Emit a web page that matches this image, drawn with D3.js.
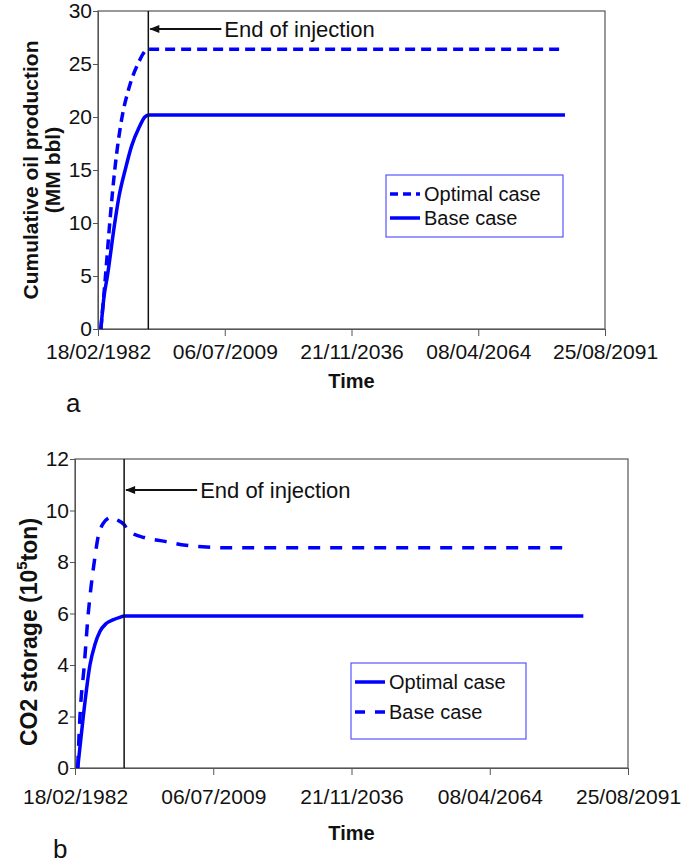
<!DOCTYPE html>
<html>
<head>
<meta charset="utf-8">
<script src="https://cdn.jsdelivr.net/npm/d3@7"></script>
<style>
  body { margin: 0; background: #fff; }
  text { font-family: "Liberation Sans", Arial, sans-serif; fill: #111; }
</style>
</head>
<body>
<svg width="685" height="863"></svg>
<script>
// x axis: Excel date axis, major unit 10000 days
const xTickDates = ["1982-02-18", "2009-07-06", "2036-11-21", "2064-04-08", "2091-08-25"];
const xTickLabels = ["18/02/1982", "06/07/2009", "21/11/2036", "08/04/2064", "25/08/2091"];

// panel a: cumulative oil production (MM bbl)
const oilTicks = [0, 5, 10, 15, 20, 25, 30];
const oilInjectionEnd = "1993-01-01";
const oilOptimal = [
  ["1982-10-01", 0], ["1983-10-01", 5], ["1984-09-01", 10], ["1985-10-01", 15],
  ["1987-05-01", 20], ["1988-09-01", 22.5], ["1990-10-01", 25], ["1993-01-01", 26.4],
  ["2083-01-01", 26.4]
];
const oilBase = [
  ["1982-10-01", 0], ["1983-06-01", 3], ["1984-03-01", 5], ["1985-10-01", 10],
  ["1986-09-01", 12.5], ["1988-01-01", 15], ["1989-06-01", 17.3], ["1991-01-01", 19],
  ["1992-04-01", 20], ["1993-01-01", 20.2], ["2083-01-01", 20.2]
];

// panel b: CO2 storage (10^5 ton)
const co2Ticks = [0, 2, 4, 6, 8, 10, 12];
const co2InjectionEnd = "1991-11-12";
const co2Optimal = [
  ["1982-09-01", 0], ["1983-10-10", 2], ["1985-02-03", 4], ["1986-01-29", 4.8],
  ["1987-01-25", 5.3], ["1988-04-01", 5.6], ["1989-08-20", 5.75], ["1991-01-05", 5.85],
  ["1991-11-12", 5.9], ["2082-10-20", 5.9]
];
const co2Base = [
  ["1982-09-01", 0], ["1983-02-12", 2], ["1983-12-21", 4], ["1984-10-04", 6],
  ["1985-04-16", 7], ["1985-12-12", 8], ["1986-09-26", 9], ["1987-09-22", 9.5],
  ["1988-09-13", 9.7], ["1989-05-14", 9.75], ["1990-05-06", 9.65], ["1991-11-12", 9.45],
  ["1992-07-14", 9.25], ["1993-08-18", 9.1], ["1995-10-28", 8.95], ["1999-12-07", 8.8],
  ["2004-01-18", 8.65], ["2008-02-27", 8.58], ["2012-03-08", 8.55], ["2080-06-01", 8.55]
];

const parse = d3.utcParse("%Y-%m-%d");
const svg = d3.select("svg");
const blue = "#0000ff";

function panel(cfg) {
  const x = d3.scaleUtc()
    .domain([parse(xTickDates[0]), parse(xTickDates[xTickDates.length - 1])])
    .range([cfg.left, cfg.right]);
  const y = d3.scaleLinear().domain(cfg.yDomain).range([cfg.bottom, cfg.top]);
  const g = svg.append("g");

  // frame
  g.append("rect")
    .attr("x", cfg.left).attr("y", cfg.top)
    .attr("width", cfg.right - cfg.left).attr("height", cfg.bottom - cfg.top)
    .attr("fill", "none").attr("stroke", "#555").attr("stroke-width", 1.2);

  // y axis
  const yAxis = g.append("g")
    .attr("transform", `translate(${cfg.left},0)`)
    .call(d3.axisLeft(y).tickValues(cfg.yTicks).tickSize(5).tickPadding(1));
  yAxis.select(".domain").attr("stroke", "#555");
  yAxis.selectAll("line").attr("stroke", "#555");
  yAxis.selectAll("text").attr("font-size", 21).attr("fill", "#111")
    .style("font-family", "'Liberation Sans', Arial, sans-serif");

  // x axis
  const xAxis = g.append("g")
    .attr("transform", `translate(0,${cfg.bottom})`)
    .call(d3.axisBottom(x).tickValues(xTickDates.map(parse))
      .tickFormat((d, i) => xTickLabels[i]).tickSize(7).tickPadding(cfg.xPad));
  xAxis.select(".domain").attr("stroke", "#555");
  xAxis.selectAll("line").attr("stroke", "#555");
  xAxis.selectAll("text").attr("font-size", 21).attr("fill", "#111")
    .style("font-family", "'Liberation Sans', Arial, sans-serif");

  // series
  const line = d3.line()
    .x(d => x(parse(d[0])))
    .y(d => y(d[1]))
    .curve(d3.curveMonotoneX);
  cfg.series.forEach(s => {
    g.append("path").datum(s.data)
      .attr("d", line)
      .attr("fill", "none").attr("stroke", blue).attr("stroke-width", 3.5)
      .attr("stroke-dasharray", s.dash || null);
  });

  // end of injection marker
  const xi = x(parse(cfg.injection));
  g.append("line")
    .attr("x1", xi).attr("x2", xi).attr("y1", cfg.top).attr("y2", cfg.bottom)
    .attr("stroke", "#111").attr("stroke-width", 1.5);
  const ay = cfg.arrowY;
  g.append("line")
    .attr("x1", xi + 2).attr("x2", xi + 73).attr("y1", ay).attr("y2", ay)
    .attr("stroke", "#111").attr("stroke-width", 2);
  g.append("path")
    .attr("d", `M${xi + 1},${ay} l10,-4 l0,8 z`).attr("fill", "#111");
  g.append("text").attr("x", xi + 76).attr("y", ay + 8)
    .attr("font-size", 22).text("End of injection");

  // legend
  const lg = cfg.legend;
  g.append("rect")
    .attr("x", lg.x).attr("y", lg.y).attr("width", lg.w).attr("height", lg.h)
    .attr("fill", "#fff").attr("stroke", "#5555ff").attr("stroke-width", 1.2);
  lg.items.forEach((it, i) => {
    const ly = lg.y + 19 + i * lg.step;
    g.append("line")
      .attr("x1", lg.x + 4).attr("x2", lg.x + 34).attr("y1", ly).attr("y2", ly)
      .attr("stroke", blue).attr("stroke-width", 3.5)
      .attr("stroke-dasharray", it.dash || null);
    g.append("text").attr("x", lg.x + 38).attr("y", ly + 7)
      .attr("font-size", 20).text(it.label);
  });

  // x title
  g.append("text")
    .attr("x", (cfg.left + cfg.right) / 2 + cfg.timeShift).attr("y", cfg.timeY)
    .attr("text-anchor", "middle").attr("font-size", 20).attr("font-weight", "bold")
    .text("Time");
  return g;
}

const ga = panel({
  left: 98, right: 605, top: 11, bottom: 329,
  yDomain: [0, 30], yTicks: oilTicks, xPad: 8,
  injection: oilInjectionEnd, arrowY: 29,
  series: [
    { data: oilOptimal, dash: "10,6" },
    { data: oilBase }
  ],
  legend: { x: 386, y: 175, w: 177, h: 62, step: 24,
    items: [{ label: "Optimal case", dash: "8,5" }, { label: "Base case" }] },
  timeShift: 0, timeY: 388
});
ga.append("text").attr("transform", "translate(38,170) rotate(-90)")
  .attr("text-anchor", "middle").attr("font-size", 21).attr("font-weight", "bold")
  .text("Cumulative oil production");
ga.append("text").attr("transform", "translate(60,170) rotate(-90)")
  .attr("text-anchor", "middle").attr("font-size", 21).attr("font-weight", "bold")
  .text("(MM bbl)");
svg.append("text").attr("x", 66).attr("y", 412).attr("font-size", 26).text("a");

const gb = panel({
  left: 75, right: 628, top: 459, bottom: 768,
  yDomain: [0, 12], yTicks: co2Ticks, xPad: 14,
  injection: co2InjectionEnd, arrowY: 490,
  series: [
    { data: co2Base, dash: "12,10" },
    { data: co2Optimal }
  ],
  legend: { x: 351, y: 663, w: 175, h: 76, step: 30,
    items: [{ label: "Optimal case" }, { label: "Base case", dash: "10,10" }] },
  timeShift: 0, timeY: 840
});
const yl = gb.append("text").attr("transform", "translate(37,632) rotate(-90)")
  .attr("text-anchor", "middle").attr("font-size", 23).attr("font-weight", "bold");
yl.append("tspan").text("CO2 storage (10");
yl.append("tspan").attr("font-size", 15).attr("dy", -10).text("5");
yl.append("tspan").attr("dy", 10).text("ton)");
svg.append("text").attr("x", 53).attr("y", 858).attr("font-size", 26).text("b");
</script>
</body>
</html>
